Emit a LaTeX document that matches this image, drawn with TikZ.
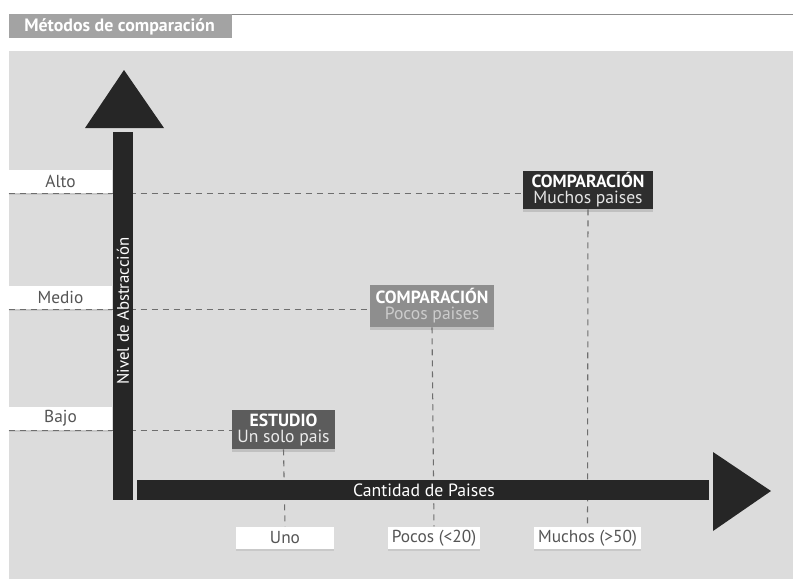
\documentclass[tikz,border=0pt]{standalone}
\usepackage{fontspec}
\setmainfont{PT Sans}
\usepackage{tikz}
\usetikzlibrary{positioning,shadows,calc}
\definecolor{panel}{HTML}{DCDCDC}
\definecolor{titlegray}{HTML}{A3A3A3}
\definecolor{rulegray}{HTML}{8C8C8C}
\definecolor{bargray}{HTML}{262626}
\definecolor{txtgray}{HTML}{555555}
\definecolor{guidegray}{HTML}{6E6E6E}
\definecolor{lowbox}{HTML}{5C5C5C}
\definecolor{midbox}{HTML}{8E8E8E}
\definecolor{highbox}{HTML}{2E2E2E}

\begin{document}
\begin{tikzpicture}[x=0.75pt,y=-0.75pt]
\tikzstyle{level}=[rectangle, fill=white, text=txtgray, minimum width=77.25pt, minimum height=17pt, inner sep=0pt, font=\fontsize{13}{14}\selectfont, drop shadow={opacity=0.2, shadow xshift=0pt, shadow yshift=-1.5pt}]
\tikzstyle{amount}=[level, minimum width=0pt, inner xsep=3pt]
\tikzstyle{method}=[rectangle, text=white, align=center, inner sep=0pt, font=\fontsize{13.2}{12}\selectfont, drop shadow={opacity=0.3, shadow xshift=0pt, shadow yshift=-2pt}]
\tikzstyle{guide}=[guidegray, line width=0.8pt, dash pattern=on 4.5pt off 3.75pt]
\tikzstyle{bar}=[fill=bargray]

  \useasboundingbox (0,0) rectangle (793,579);
  \fill[white] (0,0) rectangle (793,579);
  \fill[panel] (9,51) rectangle (793,579);
  \fill[titlegray] (9,14) rectangle (232,38);
  \draw[rulegray, line width=0.9pt] (232,14.5) -- (793,14.5);
  \node[anchor=west, text=white, inner sep=0pt, font=\bfseries\fontsize{13.4}{15}\selectfont] (title) at (24,27) {Métodos de comparación};

  \node[level] (alto)  at (60.5,181.5) {Alto};
  \node[level] (medio) at (60.5,297.5) {Medio};
  \node[level] (bajo)  at (60.5,418.5) {Bajo};

  \node[method, fill=lowbox, minimum width=77.25pt, minimum height=29.25pt] (estudio) at (283.5,429.5)
       {\textbf{ESTUDIO}\\{\color{white!92!black}Un solo pais}};
  \node[method, fill=midbox, minimum width=93pt, minimum height=31.5pt] (pocos) at (432,306)
       {\textbf{COMPARACIÓN}\\{\color{white!80!black}Pocos paises}};
  \node[method, fill=highbox, minimum width=97.5pt, minimum height=28.5pt] (muchos) at (588,190)
       {\textbf{COMPARACIÓN}\\{\color{white!90!black}Muchos paises}};

  \node[amount, minimum width=73.5pt] (uno) at (285,538) {Uno};
  \node[amount] (pocosn)  at (434,538) {Pocos (<20)};
  \node[amount] (muchosn) at (587.5,538) {Muchos (>50)};

  \path (alto.south west)  edge [guide] (alto.south west -| muchos.west)
        (medio.south west) edge [guide] (medio.south west -| pocos.west)
        (bajo.south west)  edge [guide] (bajo.south west -| estudio.west)

        (estudio.south) edge [guide] (uno.north)
        (pocos.south)   edge [guide] (pocosn.north)
        (muchos.south)  edge [guide] (muchosn.north);

  \fill[bar] (113,132) rectangle (133,500);
  \fill[bar] (124,70) -- (164,128) -- (85,128) -- cycle;
  \fill[bar] (137,480) rectangle (709,500);
  \fill[bar] (713,452) -- (771,491) -- (713,531) -- cycle;

  \node[text=white, rotate=90, font=\fontsize{12.6}{14}\selectfont] (nivel) at (123,311) {Nivel de Abstracción};
  \node[text=white, font=\fontsize{13.3}{15}\selectfont] (cantidad) at (424,490) {Cantidad de Paises};

\end{tikzpicture}
\end{document}
